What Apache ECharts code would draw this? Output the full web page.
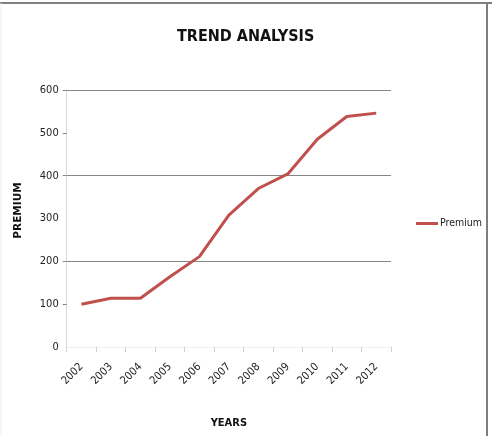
<!DOCTYPE html>
<html>
<head>
<meta charset="utf-8">
<script src="https://cdn.jsdelivr.net/npm/echarts@6/dist/echarts.min.js"></script>
<style>html,body{margin:0;padding:0;background:#fff;}#c{width:492px;height:436px;}</style>
</head>
<body>
<div id="c"></div>
<script>
const years = ['2002','2003','2004','2005','2006','2007','2008','2009','2010','2011','2012'];
const premium = [100, 114, 114, 164, 211, 308, 370, 404, 485, 538, 546];
const yTicks = [0, 100, 200, 300, 400, 500, 600];
const shownGrid = [100, 200, 400, 500, 600];

const narrow = "'Liberation Sans Narrow', 'DejaVu Sans Condensed', sans-serif";
const chart = echarts.init(document.getElementById('c'), null, {renderer: 'canvas'});
chart.setOption({
  animation: false,
  backgroundColor: '#fff',
  title: {
    text: 'TREND ANALYSIS',
    left: 172, top: 24,
    textStyle: {fontFamily: narrow, fontWeight: 'bold', fontSize: 16, color: '#111'}
  },
  legend: {
    data: ['Premium'],
    left: 411, top: 213,
    itemWidth: 22, itemHeight: 3, itemGap: 2,
    icon: 'rect',
    textStyle: {fontFamily: narrow, fontSize: 10.5, color: '#222', padding: [0,0,0,-3]}
  },
  grid: {left: 66.7, right: 101, top: 90, bottom: 89, containLabel: false},
  xAxis: {
    type: 'category',
    data: years,
    boundaryGap: true,
    name: 'YEARS',
    nameLocation: 'middle',
    nameGap: 71,
    nameTextStyle: {fontFamily: narrow, fontWeight: 'bold', fontSize: 11, color: '#111'},
    axisLine: {show: true, lineStyle: {color: '#eeeeee', width: 1}},
    axisTick: {show: true, length: 5, lineStyle: {color: '#d0d0d0'}},
    axisLabel: {rotate: 45, margin: 18, fontFamily: narrow, fontSize: 11, color: '#222'},
    splitLine: {show: false}
  },
  yAxis: {
    type: 'value',
    min: 0, max: 600, interval: 100,
    name: 'PREMIUM',
    nameLocation: 'middle',
    nameGap: 43,
    nameRotate: 90,
    nameTextStyle: {fontFamily: "'DejaVu Sans', sans-serif", fontWeight: 'bold', fontSize: 10.5, color: '#111', padding: [0,0,0,16]},
    axisLine: {show: true, lineStyle: {color: '#d9d9d9', width: 1}},
    axisTick: {show: true, length: 4, customValues: shownGrid, lineStyle: {color: '#868686'}},
    axisLabel: {margin: 8, fontFamily: narrow, fontSize: 11, color: '#222', customValues: yTicks},
    splitLine: {show: true, lineStyle: {color: yTicks.map(v => shownGrid.includes(v) ? '#868686' : 'rgba(0,0,0,0)'), width: 1}}
  },
  series: [{
    name: 'Premium',
    type: 'line',
    data: premium,
    showSymbol: false,
    symbol: 'none',
    lineStyle: {color: '#C0504D', width: 3},
    itemStyle: {color: '#C0504D'}
  }],
  graphic: [
    {type: 'line', shape: {x1: 0, y1: 3, x2: 492, y2: 3}, style: {stroke: '#7f7f7f', lineWidth: 2}},
    {type: 'line', shape: {x1: 487, y1: 3, x2: 487, y2: 436}, style: {stroke: '#7f7f7f', lineWidth: 2}},
    {type: 'line', shape: {x1: 1, y1: 3, x2: 1, y2: 436}, style: {stroke: '#eeeeee', lineWidth: 1}}
  ]
});
</script>
</body>
</html>
